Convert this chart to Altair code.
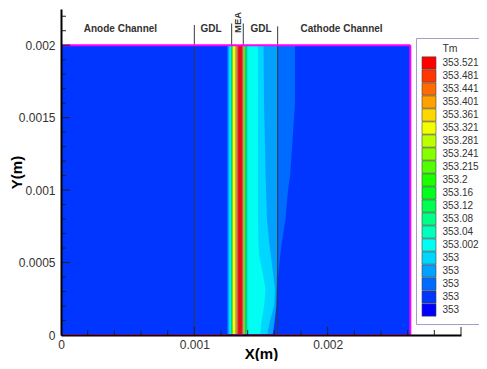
import altair as alt
import pandas as pd

# ---------------- data ----------------
level_labels = ["353.521", "353.481", "353.441", "353.401", "353.361", "353.321",
                "353.281", "353.241", "353.215", "353.2", "353.16", "353.12",
                "353.08", "353.04", "353.002", "353", "353", "353", "353", "353"]
level_colors = ["#ff0000", "#ff3600", "#ff6b00", "#ffa100", "#ffd700", "#f2ff00",
                "#bcff00", "#86ff00", "#50ff00", "#1bff00", "#00ff1b", "#00ff50",
                "#00ff86", "#00ffbc", "#00fff2", "#00d7ff", "#00a1ff", "#006bff",
                "#0036ff", "#0000ff"]
level_keys = [f"{lab}#{j}" for j, lab in enumerate(level_labels)]


def key(i):
    """level index counted from the bottom of the legend"""
    return level_keys[len(level_keys) - 1 - i]


x_domain = [0, 0.003]
y_domain = [0, 0.00225]
field_right = 0.00262
field_top = 0.002
background_level = 1

# membrane / catalyst hot band (constant over y)
mea_edges = [0.001245, 0.001252, 0.00126, 0.001268, 0.001275, 0.00128, 0.001285,
             0.00129, 0.001309, 0.001316, 0.001322, 0.001328, 0.001333, 0.001355,
             0.00136, 0.001364, 0.001367, 0.001371, 0.001375, 0.001382, 0.00139,
             0.001397, 0.001406]
mea_levels = [2, 3, 4, 5, 7, 10, 13, 14, 15, 16, 17, 18, 19, 18, 17, 16, 15, 14,
              12, 9, 7, 6]

# cathode-side contour edges, read at these heights
row_y = [0.002, 0.0016, 0.0013, 0.0011, 0.001, 0.0008, 0.00065, 0.00054,
         0.00043, 0.00031, 0.0002, 0.0001, 0.0]
cath_start = 0.0014
edge_l5 = [0.001478, 0.001478, 0.001478, 0.001478, 0.001478, 0.001478, 0.00148,
           0.001487, 0.001513, 0.001534, 0.001523, 0.001505, 0.001493]
edge_l4 = [0.001519, 0.001523, 0.00153, 0.001534, 0.001538, 0.001545, 0.00156,
           0.001575, 0.00159, 0.001605, 0.001598, 0.001568, 0.001545]
edge_l3 = [0.001624, 0.001624, 0.001624, 0.001624, 0.001624, 0.001624, 0.001624,
           0.001624, 0.00162, 0.001616, 0.001613, 0.001601, 0.001586]
edge_l2 = [0.001755, 0.001755, 0.001733, 0.001718, 0.001703, 0.001684, 0.001658,
           0.001643, 0.001631, 0.00162, 0.001616, 0.001605, 0.00159]
cath_bands = [(2, edge_l2), (3, edge_l3), (4, edge_l4), (5, edge_l5)]

divider_x = [0.001, 0.00128, 0.001367, 0.001625]
divider_y0 = [0, 0.002, 0.002, 0]
divider_y1 = [0.00214, 0.00215, 0.00215, 0.00213]

region_names = ["Anode Channel", "GDL", "GDL", "Cathode Channel"]
region_x = [0.000446, 0.001125, 0.0015, 0.002104]
region_y = 0.002112
mea_name = "MEA"
mea_label_x = 0.001324
mea_label_y = 0.002157

x_labels = [0, 0.001, 0.002]
y_labels = [0, 0.0005, 0.001, 0.0015, 0.002]
x_major = [0.001, 0.002, 0.003]
x_minor = [0.0002, 0.0004, 0.0006, 0.0008, 0.0012, 0.0014, 0.0016, 0.0018,
           0.0022, 0.0024, 0.0026, 0.0028]
y_major = [0.0005, 0.001, 0.0015, 0.002]
y_minor = [0.0001, 0.0002, 0.0003, 0.0004, 0.0006, 0.0007, 0.0008, 0.0009,
           0.0011, 0.0012, 0.0013, 0.0014, 0.0016, 0.0017, 0.0018, 0.0019,
           0.0021, 0.0022]

# ---------------- layout ----------------
W, H = 400, 326
FONT = "Liberation Sans"
xt_major = 8 / H * (y_domain[1] - y_domain[0])
xt_minor = 5 / H * (y_domain[1] - y_domain[0])
yt_major = 9 / W * (x_domain[1] - x_domain[0])
yt_minor = 5 / W * (x_domain[1] - x_domain[0])

x_axis = alt.Axis(title="X(m)", values=x_labels, ticks=False, grid=False,
                  domainColor="black", domainWidth=2, labelFlush=False,
                  labelExpr="format(datum.value, '~g')", labelFont=FONT,
                  labelFontSize=12, labelColor="#333", labelPadding=4,
                  titleFont=FONT, titleFontSize=15, titleFontWeight="bold",
                  titleColor="black", titleY=11, titleBaseline="top", zindex=2)
y_axis = alt.Axis(title="Y(m)", values=y_labels, ticks=False, grid=False,
                  domainColor="black", domainWidth=2, labelFlush=False,
                  labelExpr="format(datum.value, '~g')", labelFont=FONT,
                  labelFontSize=12, labelColor="#333", labelPadding=6,
                  titleFont=FONT, titleFontSize=15, titleFontWeight="bold",
                  titleColor="black", titleX=-45, titleBaseline="middle",
                  zindex=2)
x_scale = alt.Scale(domain=x_domain, nice=False, zero=False)
y_scale = alt.Scale(domain=y_domain, nice=False, zero=False)


def X(f):
    return alt.X(f"{f}:Q", scale=x_scale, axis=x_axis)


def Y(f):
    return alt.Y(f"{f}:Q", scale=y_scale, axis=y_axis)


legend = alt.Legend(title="Tm", orient="none", legendX=355, legendY=29,
                    direction="vertical",
                    symbolType="M-1.36,-1.2H1.36V1.2H-1.36Z", symbolSize=106,
                    symbolStrokeColor="#444", symbolStrokeWidth=0.6,
                    symbolOpacity=1, symbolOffset=1.5, rowPadding=-6,
                    labelOffset=8,
                    labelFont=FONT, labelFontSize=10, labelColor="#333",
                    labelExpr="slice(datum.label, 0, indexof(datum.label, '#'))",
                    titleFont=FONT, titleFontSize=10.5, titleFontWeight="normal",
                    titleColor="#333", titleAnchor="middle", titleAlign="center",
                    titlePadding=3, padding=6, fillColor="white",
                    strokeColor="#a0a0c8", cornerRadius=0)
color_scale = alt.Scale(domain=level_keys, range=level_colors)


def C():
    return alt.Color("k:N", scale=color_scale, legend=legend)


layers = []

bg = pd.DataFrame({"x0": [0], "x1": [field_right], "y0": [0], "y1": [field_top],
                   "k": [key(background_level)]})
layers.append(alt.Chart(bg).mark_rect(opacity=1).encode(
    x=X("x0"), x2="x1", y=Y("y0"), y2="y1", color=C()))

for lvl, edges in cath_bands:
    df = pd.DataFrame({"y": row_y, "xs": [cath_start] * len(row_y), "xe": edges,
                       "k": [key(lvl)] * len(row_y)})
    layers.append(alt.Chart(df).mark_area(orient="horizontal", opacity=1).encode(
        y=Y("y"), x=X("xs"), x2="xe", color=C()))

mea = pd.DataFrame({"x0": mea_edges[:-1], "x1": mea_edges[1:],
                    "y0": [0] * len(mea_levels), "y1": [field_top] * len(mea_levels),
                    "k": [key(l) for l in mea_levels]})
layers.append(alt.Chart(mea).mark_rect(opacity=1).encode(
    x=X("x0"), x2="x1", y=Y("y0"), y2="y1", color=C()))

div = pd.DataFrame({"x": divider_x, "y0": divider_y0, "y1": divider_y1})
layers.append(alt.Chart(div).mark_rule(color="#3a3a3a", strokeWidth=1).encode(
    x=X("x"), y=Y("y0"), y2="y1"))

border = pd.DataFrame({"x0": [0, field_right, 0],
                       "x1": [field_right, field_right, field_right],
                       "y0": [field_top, 0, 0],
                       "y1": [field_top, field_top, 0]})
layers.append(alt.Chart(border).mark_rule(color="#ff00ff", strokeWidth=2).encode(
    x=X("x0"), x2="x1", y=Y("y0"), y2="y1"))

xt = pd.DataFrame({"x": x_major + x_minor,
                   "y0": [0] * (len(x_major) + len(x_minor)),
                   "y1": [xt_major] * len(x_major) + [xt_minor] * len(x_minor)})
layers.append(alt.Chart(xt).mark_rule(color="#222", strokeWidth=1).encode(
    x=X("x"), y=Y("y0"), y2="y1"))
yt = pd.DataFrame({"y": y_major + y_minor,
                   "x0": [0] * (len(y_major) + len(y_minor)),
                   "x1": [yt_major] * len(y_major) + [yt_minor] * len(y_minor)})
layers.append(alt.Chart(yt).mark_rule(color="#222", strokeWidth=1).encode(
    y=Y("y"), x=X("x0"), x2="x1"))

names = pd.DataFrame({"x": region_x, "y": [region_y] * len(region_x),
                      "t": region_names})
layers.append(alt.Chart(names).mark_text(font=FONT, fontSize=10, fontWeight="bold",
                                         color="#333", baseline="middle",
                                         align="center").encode(
    x=X("x"), y=Y("y"), text="t:N"))
mname = pd.DataFrame({"x": [mea_label_x], "y": [mea_label_y], "t": [mea_name]})
layers.append(alt.Chart(mname).mark_text(font=FONT, fontSize=9.5, fontWeight="bold",
                                         color="#333", baseline="middle",
                                         align="center", angle=270).encode(
    x=X("x"), y=Y("y"), text="t:N"))

chart = alt.layer(*layers).properties(
    width=W, height=H,
    autosize=alt.AutoSizeParams(type="none"),
    padding={"left": 53, "top": 1, "right": 18, "bottom": 26},
    background="white",
).configure_view(stroke="transparent")

chart.save("out.html", embed_options={"renderer": "svg", "actions": False})
